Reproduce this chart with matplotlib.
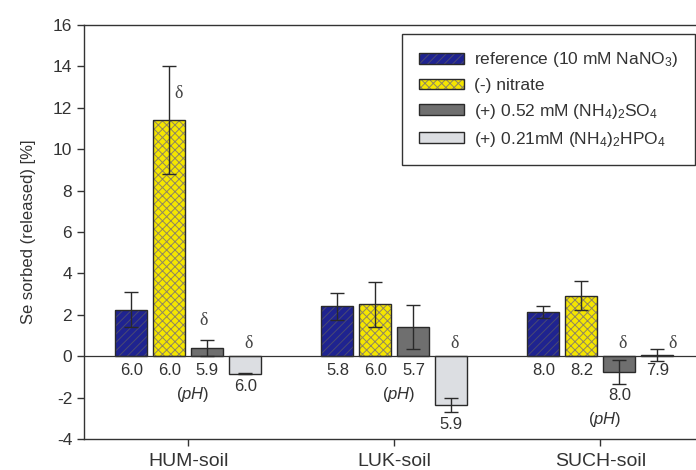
import matplotlib

matplotlib.use("Agg")
import matplotlib.pyplot as plt
import numpy as np
from matplotlib.legend_handler import HandlerTuple
from matplotlib.patches import Patch

plt.rcParams["font.family"] = ["Liberation Sans", "DejaVu Sans"]
plt.rcParams["mathtext.fontset"] = "custom"
plt.rcParams["mathtext.rm"] = "Liberation Sans"
plt.rcParams["mathtext.it"] = "Liberation Sans:italic"
plt.rcParams["hatch.linewidth"] = 0.7
plt.rcParams["axes.unicode_minus"] = False

# data
soils = ["HUM-soil", "LUK-soil", "SUCH-soil"]
series_labels = [
    r"reference (10 mM NaNO$_3$)",
    "(-) nitrate",
    r"(+) 0.52 mM (NH$_4$)$_2$SO$_4$",
    r"(+) 0.21mM (NH$_4$)$_2$HPO$_4$",
]
reference = [2.25, 2.42, 2.14]
no_nitrate = [11.4, 2.5, 2.91]
sulfate = [0.39, 1.4, -0.76]
phosphate = [-0.84, -2.37, 0.05]

reference_err = [0.83, 0.65, 0.29]
no_nitrate_err = [2.6, 1.1, 0.7]
sulfate_err = [0.4, 1.07, 0.56]
phosphate_err = [0.03, 0.33, 0.29]

reference_ph = ["6.0", "5.8", "8.0"]
no_nitrate_ph = ["6.0", "6.0", "8.2"]
sulfate_ph = ["5.9", "5.7", "8.0"]
phosphate_ph = ["6.0", "5.9", "7.9"]

# (soil index, series index) of bars flagged with delta
delta_flags = [(0, 1), (0, 2), (0, 3), (1, 3), (2, 2), (2, 3)]

values = [reference, no_nitrate, sulfate, phosphate]
errors = [reference_err, no_nitrate_err, sulfate_err, phosphate_err]
ph_labels = [reference_ph, no_nitrate_ph, sulfate_ph, phosphate_ph]

fill_colors = ["#1f2390", "#f5e600", "#6f6f6f", "#dcdee2"]
hatch_colors = ["#4a4a72", "#8f8660", "#6f6f6f", "#dcdee2"]
hatches = ["////", "xxxx", None, None]
edge_color = "#2a2a2a"
text_color = "#333333"

BAR_WIDTH = 0.155
BAR_STEP = 0.1845

fig = plt.figure(figsize=(6.96, 4.70), dpi=100)
ax = fig.add_axes([84 / 696, 31 / 470, 612 / 696, 414 / 470])

x = np.arange(len(soils))
for i in range(4):
    pos = x + (i - 1.5) * BAR_STEP
    ax.bar(pos, values[i], BAR_WIDTH, color=fill_colors[i], edgecolor=hatch_colors[i],
           hatch=hatches[i], linewidth=0, zorder=2)
    ax.bar(pos, values[i], BAR_WIDTH, fill=False, edgecolor=edge_color, linewidth=1.0, zorder=3)
    ax.errorbar(pos, values[i], yerr=errors[i], fmt="none", ecolor="#2a2a2a",
                elinewidth=1.0, capsize=5, capthick=1.0, zorder=4)

    for g in range(len(soils)):
        v = values[i][g]
        if v < -0.2:
            y_txt = v - errors[i][g] - 0.6
        else:
            y_txt = -0.7
        ax.text(pos[g], y_txt, ph_labels[i][g], ha="center", va="center",
                fontsize=12, color=text_color, zorder=5)
        if i == 2:
            ax.text(x[g] + 0.02, y_txt - 1.15, r"($\mathit{pH}$)", ha="center", va="center",
                    fontsize=12, color=text_color)

# delta markers
for g, i in delta_flags:
    pos = x[g] + (i - 1.5) * BAR_STEP
    top = values[i][g] + errors[i][g]
    if values[i][g] > 5:
        xd, yd = pos + 0.045, values[i][g] + 1.3
    elif values[i][g] > 0.2:
        xd, yd = pos - 0.02, top + 0.95
    elif abs(values[i][g]) <= 0.2:
        xd, yd = pos + 0.075, 0.63
    else:
        xd, yd = pos + 0.015, 0.63
    ax.text(xd, yd, "δ", ha="center", va="center", fontsize=13,
            family=["Liberation Serif", "DejaVu Serif"], color="#444444", zorder=5)

ax.axhline(0, color="#333333", linewidth=0.9, zorder=3.5)

ax.set_xlim(-0.507, 2.464)
ax.set_ylim(-4, 16)
ax.set_yticks(np.arange(-4, 17, 2))
ax.set_xticks(x)
ax.set_xticklabels(soils, fontsize=14)
ax.set_ylabel("Se sorbed (released) [%]", fontsize=12, color=text_color, labelpad=12)

ax.spines["right"].set_visible(False)
for side in ["left", "top", "bottom"]:
    ax.spines[side].set_color("#333333")
    ax.spines[side].set_linewidth(1.0)
ax.tick_params(axis="both", direction="out", length=5, width=1.0, colors="#333333",
               labelcolor=text_color)
ax.tick_params(axis="y", labelsize=12.5)
ax.tick_params(axis="x", pad=5)

handles = []
for i in range(4):
    fill = Patch(facecolor=fill_colors[i], edgecolor=hatch_colors[i], hatch=hatches[i], linewidth=0)
    outline = Patch(fill=False, edgecolor=edge_color, linewidth=1.0)
    handles.append((fill, outline))

leg = fig.legend(handles, series_labels, loc="upper right", bbox_to_anchor=(695 / 696, 1 - 34 / 470),
                 handler_map={tuple: HandlerTuple(ndivide=1)}, fontsize=12.5,
                 frameon=True, fancybox=False, edgecolor="#333333", framealpha=1,
                 borderaxespad=0, handlelength=2.6, handleheight=0.55, handletextpad=0.6,
                 labelspacing=0.5, borderpad=0.95)
leg.get_frame().set_linewidth(1.0)
for t in leg.get_texts():
    t.set_color(text_color)

fig.savefig("out.png", dpi=100)
